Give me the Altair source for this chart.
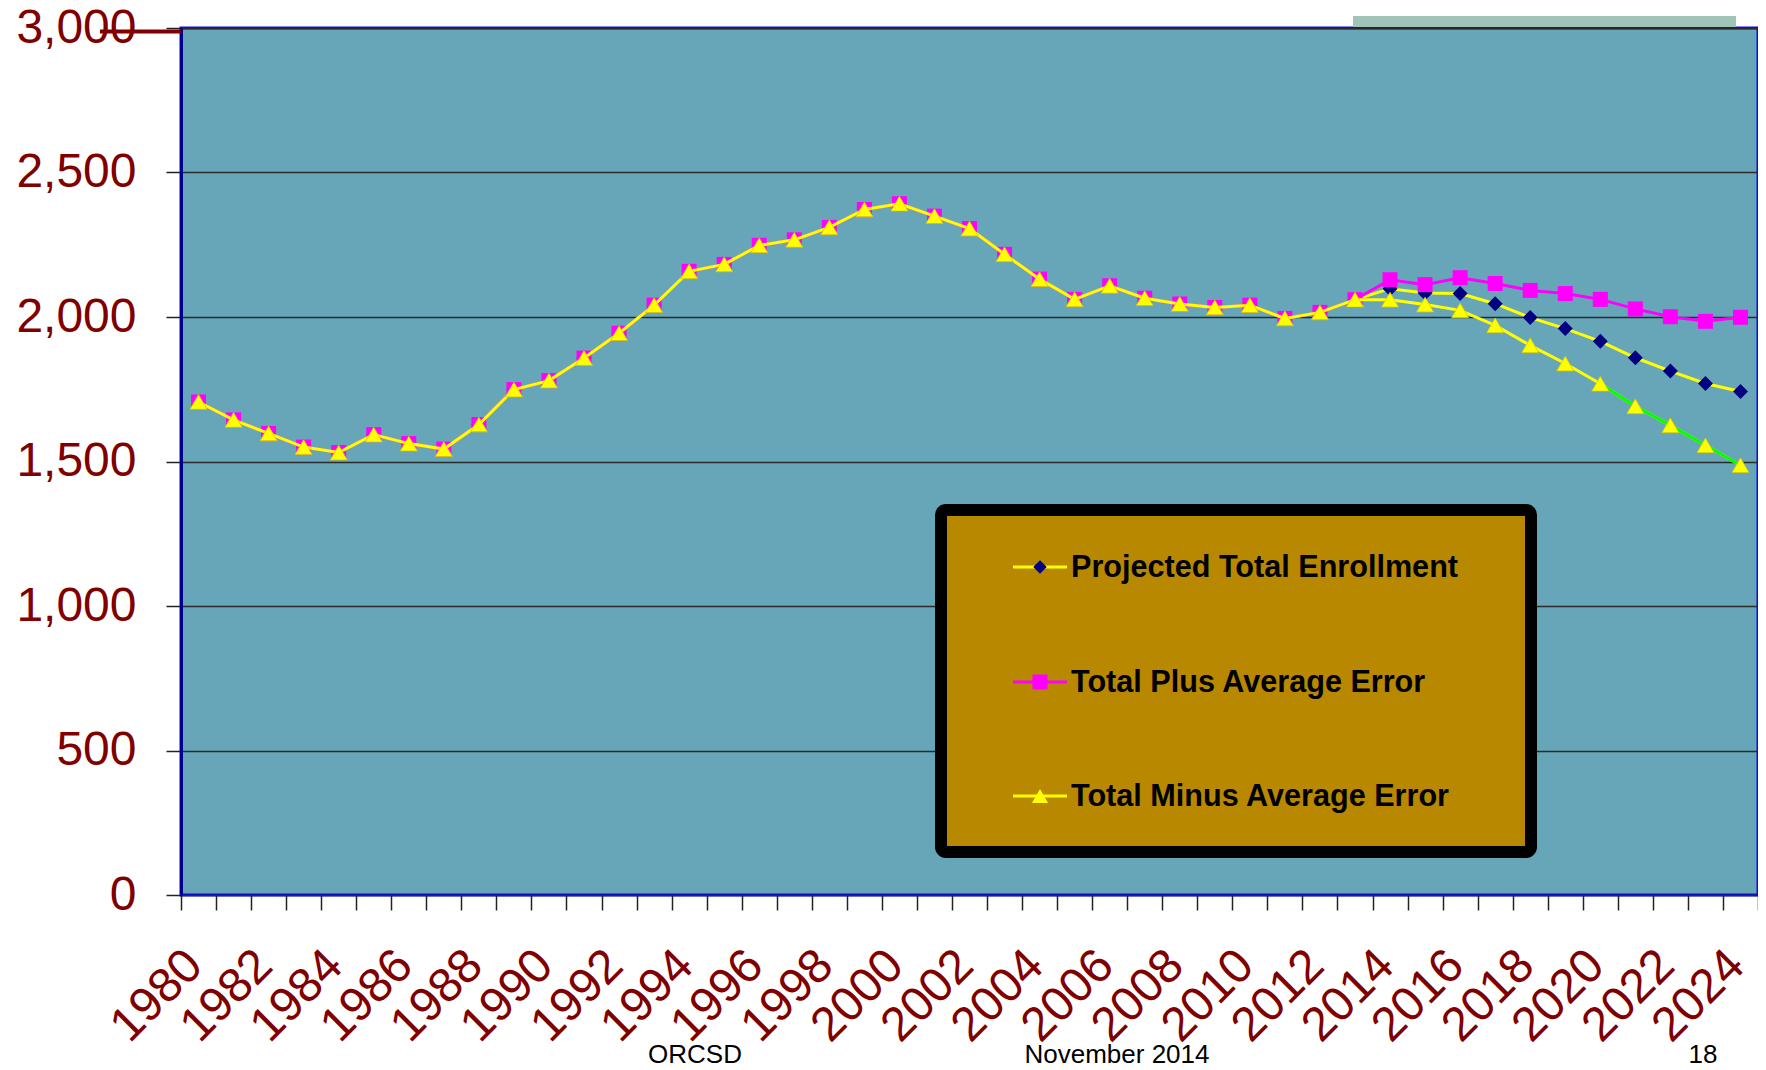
import altair as alt
import pandas as pd

# ---------------- data ----------------
years = list(range(1980, 2025))
history = [1706, 1644, 1597, 1550, 1531, 1593, 1562, 1543, 1628, 1749,
           1780, 1858, 1944, 2041, 2158, 2182, 2248, 2267, 2310, 2372,
           2392, 2349, 2306, 2217, 2131, 2061, 2108, 2065, 2045, 2033,
           2041, 1995, 2016, 2060]                       # 1980-2013
projected = [2098, 2083, 2081, 2046, 1998, 1960, 1916, 1859, 1813, 1770, 1742]   # 2014-2024
plus_err = [2129, 2112, 2136, 2116, 2092, 2081, 2061, 2028, 2001, 1985, 1999]
minus_err = [2060, 2043, 2023, 1971, 1902, 1839, 1769, 1691, 1625, 1556, 1487]

series_names = ["Projected Total Enrollment", "Total Plus Average Error", "Total Minus Average Error"]
y_ticks = [0, 500, 1000, 1500, 2000, 2500, 3000]
footer = ["ORCSD", "November 2014", "18"]

rows = []
for name, proj in zip(series_names, [projected, plus_err, minus_err]):
    for yr, v in zip(years, history + proj):
        rows.append({"year": yr, "series": name, "value": v})
df = pd.DataFrame(rows)

FONT = "Liberation Sans"
DARKRED = "#800000"

x_enc = alt.X(
    "year:O",
    bandPosition=0.5,
    scale=alt.Scale(type="band", paddingInner=0, paddingOuter=0),
    axis=alt.Axis(
        title=None, grid=False, domain=False,
        tickBand="extent", tickSize=15, tickColor="#222222", tickWidth=1.5,
        labelAngle=-45, labelAlign="right", labelBaseline="top",
        labelFontSize=48, labelFont=FONT, labelColor=DARKRED,
        labelPadding=31, labelOffset=-21, labelOverlap=False, labelBound=False, labelLimit=0,
        labelExpr="datum.value % 2 == 0 ? datum.label : ''",
    ),
)
y_enc = alt.Y(
    "value:Q",
    scale=alt.Scale(domain=[0, 3000], nice=False, zero=True),
    axis=alt.Axis(
        title=None, values=y_ticks, format=",d",
        grid=True, gridColor="#2b2b2b", gridWidth=1.5,
        domain=True, domainColor="#000090", domainWidth=3,
        tickSize=15, tickColor="#222222", tickWidth=1.5,
        labelFontSize=48, labelFont=FONT, labelColor=DARKRED, labelPadding=30,
    ),
)

base = alt.Chart(df).encode(x=x_enc, y=y_enc)

def sel(name):
    return alt.datum.series == name

proj_line = base.transform_filter(sel(series_names[0])).mark_line(color="#ffff00", strokeWidth=3)
proj_pts = base.transform_filter(sel(series_names[0])).mark_point(
    shape="diamond", filled=True, size=225, color="#000080", opacity=1)
plus_line = base.transform_filter(sel(series_names[1])).mark_line(color="#ff00ff", strokeWidth=3)
plus_pts = base.transform_filter(sel(series_names[1])).mark_point(
    shape="square", filled=True, size=225, color="#ff00ff", opacity=1)
minus_line = base.transform_filter(sel(series_names[2])).mark_line(color="#ffff00", strokeWidth=3)
minus_green = base.transform_filter(sel(series_names[2])).transform_filter(
    alt.datum.year >= 2020).mark_line(color="#00ff00", strokeWidth=3)
minus_pts = base.transform_filter(sel(series_names[2])).mark_point(
    shape="triangle-up", filled=True, size=289, color="#ffff00", opacity=1,
    stroke="#d8c800", strokeWidth=0.8)

one = pd.DataFrame({"k": [0]})
deco = alt.Chart(one)

# legend box
leg_box = deco.mark_rect(fill="#b88800", stroke="#000000", strokeWidth=12, cornerRadius=5).encode(
    x=alt.value(760), x2=alt.value(1350), y=alt.value(482), y2=alt.value(824))

legend_layers = [leg_box]
leg_y = [539, 654, 768]
leg_line_col = ["#ffff00", "#ff00ff", "#ffff00"]
leg_shape = ["diamond", "square", "triangle-up"]
leg_fill = ["#000080", "#ff00ff", "#ffff00"]
leg_size = [180, 225, 260]
for i in range(3):
    legend_layers.append(deco.mark_rule(color=leg_line_col[i], strokeWidth=3).encode(
        x=alt.value(832), x2=alt.value(886), y=alt.value(leg_y[i])))
    legend_layers.append(deco.mark_point(shape=leg_shape[i], filled=True, opacity=1,
                                         size=leg_size[i], color=leg_fill[i]).encode(
        x=alt.value(859), y=alt.value(leg_y[i])))
    legend_layers.append(deco.mark_text(text=series_names[i], align="left", baseline="middle",
                                        font=FONT, fontSize=30.6, fontWeight="bold",
                                        color="#000000").encode(
        x=alt.value(890), y=alt.value(leg_y[i] + 1)))

# slide decorations
green_box = deco.mark_rect(fill="#a0c5b8").encode(
    x=alt.value(1172), x2=alt.value(1555), y=alt.value(-12), y2=alt.value(-1))
red_rule = deco.mark_rule(color=DARKRED, strokeWidth=4).encode(
    x=alt.value(-81), x2=alt.value(0), y=alt.value(3.5))
foot_x = [514, 936, 1522]
footers = [deco.mark_text(text=t, align="center", baseline="alphabetic", font=FONT,
                          fontSize=26, color="#000000").encode(
    x=alt.value(fx), y=alt.value(1035)) for t, fx in zip(footer, foot_x)]

chart = alt.layer(
    proj_line, proj_pts, plus_line, plus_pts, minus_line, minus_green, minus_pts,
    *legend_layers, green_box, red_rule, *footers,
).properties(
    width=1577, height=867,
    autosize=alt.AutoSizeParams(type="none"),
    padding={"left": 173, "top": 20, "right": 0, "bottom": 175},
    background="#ffffff",
).configure_view(
    fill="#66a6b8", stroke="#0a0aee", strokeWidth=3,
)

chart.save("out.html", embed_options={"renderer": "svg", "actions": False})
